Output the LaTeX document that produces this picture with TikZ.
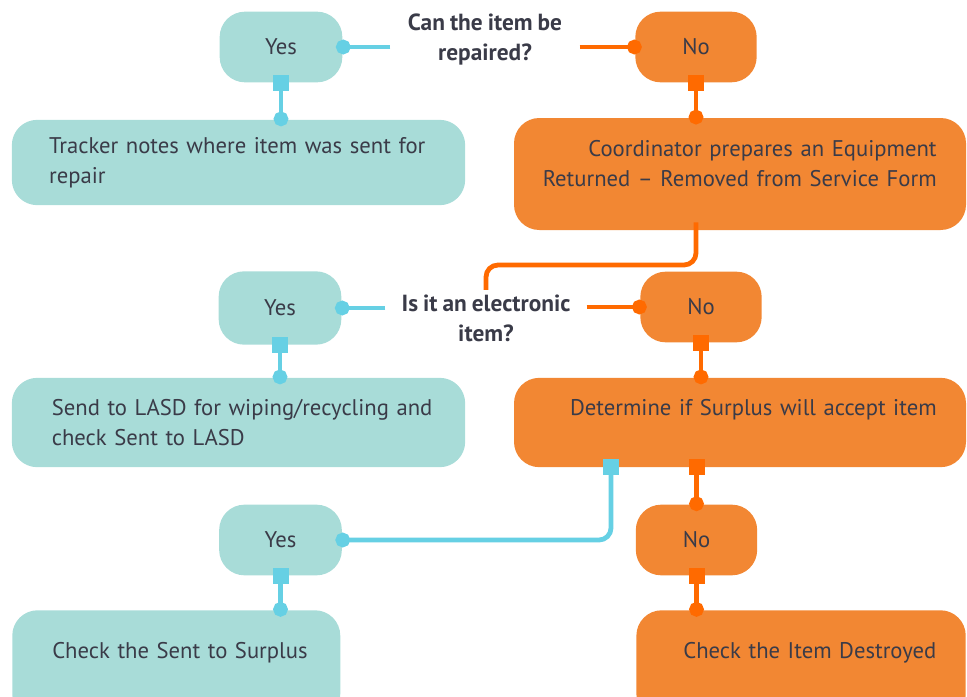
\documentclass[tikz,border=0pt]{standalone}
\usepackage{fontspec}
\setmainfont{PT Sans}[WordSpace=0.85]
\usetikzlibrary{positioning,arrows.meta}
\definecolor{tealfill}{HTML}{A8DCD8}
\definecolor{orangefill}{HTML}{F28733}
\definecolor{tealwire}{HTML}{66D0E4}
\definecolor{orangewire}{HTML}{FF6A00}
\definecolor{ink}{HTML}{3A3B48}

\tikzset{
  pill/.style={rounded corners=19pt, text=ink, font=\fontsize{17}{22.5}\selectfont},
  yesbox/.style={pill, fill=tealfill, minimum width=92pt, minimum height=53pt},
  nobox/.style={pill, fill=orangefill, minimum width=91pt, minimum height=53pt},
  leftbox/.style={pill, fill=tealfill, align=left, inner xsep=28pt},
  rightbox/.style={pill, fill=orangefill, align=right, inner xsep=22pt},
  question/.style={text=ink, align=center, font=\fontsize{17.5}{22.5}\selectfont\bfseries},
  wire/.style={line width=3.6pt, shorten <=-6pt, shorten >=-5pt},
  tealwire/.style={wire, draw=tealwire, {Square[length=12pt,width=12pt]}-{Circle[length=11pt]}},
  orangewire/.style={wire, draw=orangewire, {Square[length=12pt,width=12pt]}-{Circle[length=11pt]}},
  tealstub/.style={wire, draw=tealwire, -{Circle[length=11pt]}},
  orangestub/.style={wire, draw=orangewire, -{Circle[length=11pt]}}
}
% one line that may run past the text width
\newcommand{\lline}[1]{\leavevmode\hbox to\hsize{#1\hss}}
\newcommand{\rline}[1]{\leavevmode\hbox to\hsize{\hss#1}}

\begin{document}
\begin{tikzpicture}[x=0.75pt, y=-0.75pt]
\useasboundingbox (0,0) rectangle (967,696);

% first question
\node[yesbox] (yes1) at (281,47) {Yes};
\node[nobox] (no1) at (696,47) {No};
\node[question, inner xsep=19pt] (q1) at (485,40) {Can the item be\\repaired?};
\node[leftbox, text width=284pt, minimum height=64pt] (tracker) at (238.5,162.5)
  {\lline{Tracker notes where item was sent for}\\repair};
\node[rightbox, text width=295pt, minimum height=84pt] (coord) at (740,174)
  {\rline{Coordinator prepares an Equipment}\\\rline{Returned -- Removed from Service Form}\\[-6pt]\mbox{}};

% second question
\node[yesbox, minimum height=55pt] (yes2) at (280,308) {Yes};
\node[nobox] (no2) at (701,307) {No};
\node[question, inner xsep=18pt] (q2) at (486,318) {Is it an electronic\\item?};
\coordinate (bend1) at (q2.north |- 0,265);
\node[leftbox, text width=280pt, minimum height=67pt, inner xsep=30pt] (lasd) at (238.5,422.5)
  {\lline{Send to LASD for wiping/recycling and}\\check Sent to LASD};
\node[rightbox, text width=295pt, minimum height=67pt] (det) at (740,422.5)
  {\rline{Determine if Surplus will accept item}\\\mbox{}};

% surplus
\node[yesbox] (yes3) at (280.5,540) {Yes};
\node[nobox] (no3) at (696.5,540) {No};
\node[leftbox, text width=186pt, minimum height=82pt, inner xsep=30pt, anchor=north west] (surplus) at (12,610)
  {\lline{Check the Sent to Surplus}\\\mbox{}};
\node[rightbox, text width=203pt, minimum height=82pt, anchor=north east] (destroyed) at (966,610)
  {\rline{Check the Item Destroyed}\\\mbox{}};

% connectors
\draw[tealstub] (yes1.east -| q1.west) -- (yes1.east);
\draw[orangestub] (no1.west -| q1.east) -- (no1.west);
\draw[tealwire] (yes1.south) -- (yes1.south |- tracker.north);
\draw[orangewire] (no1.south) -- (no1.south |- coord.north);
\draw[orangewire, -, rounded corners=9pt, shorten >=0pt] (no1.south |- coord.south) |- (bend1) -- (q2.north);

\draw[tealstub] (yes2.east -| q2.west) -- (yes2.east);
\draw[orangestub] (no2.west -| q2.east) -- (no2.west);
\draw[tealwire] (yes2.south) -- (yes2.south |- lasd.north);
\draw[orangewire] (no2.south) -- (no2.south |- det.north);

\draw[tealwire, rounded corners=9pt] ([xshift=-96.75pt]det.south) |- (yes3.east);
\draw[orangewire] (no3.north |- det.south) -- (no3.north);
\draw[tealwire] (yes3.south) -- (yes3.south |- surplus.north);
\draw[orangewire] (no3.south) -- (no3.south |- destroyed.north);
\end{tikzpicture}
\end{document}
